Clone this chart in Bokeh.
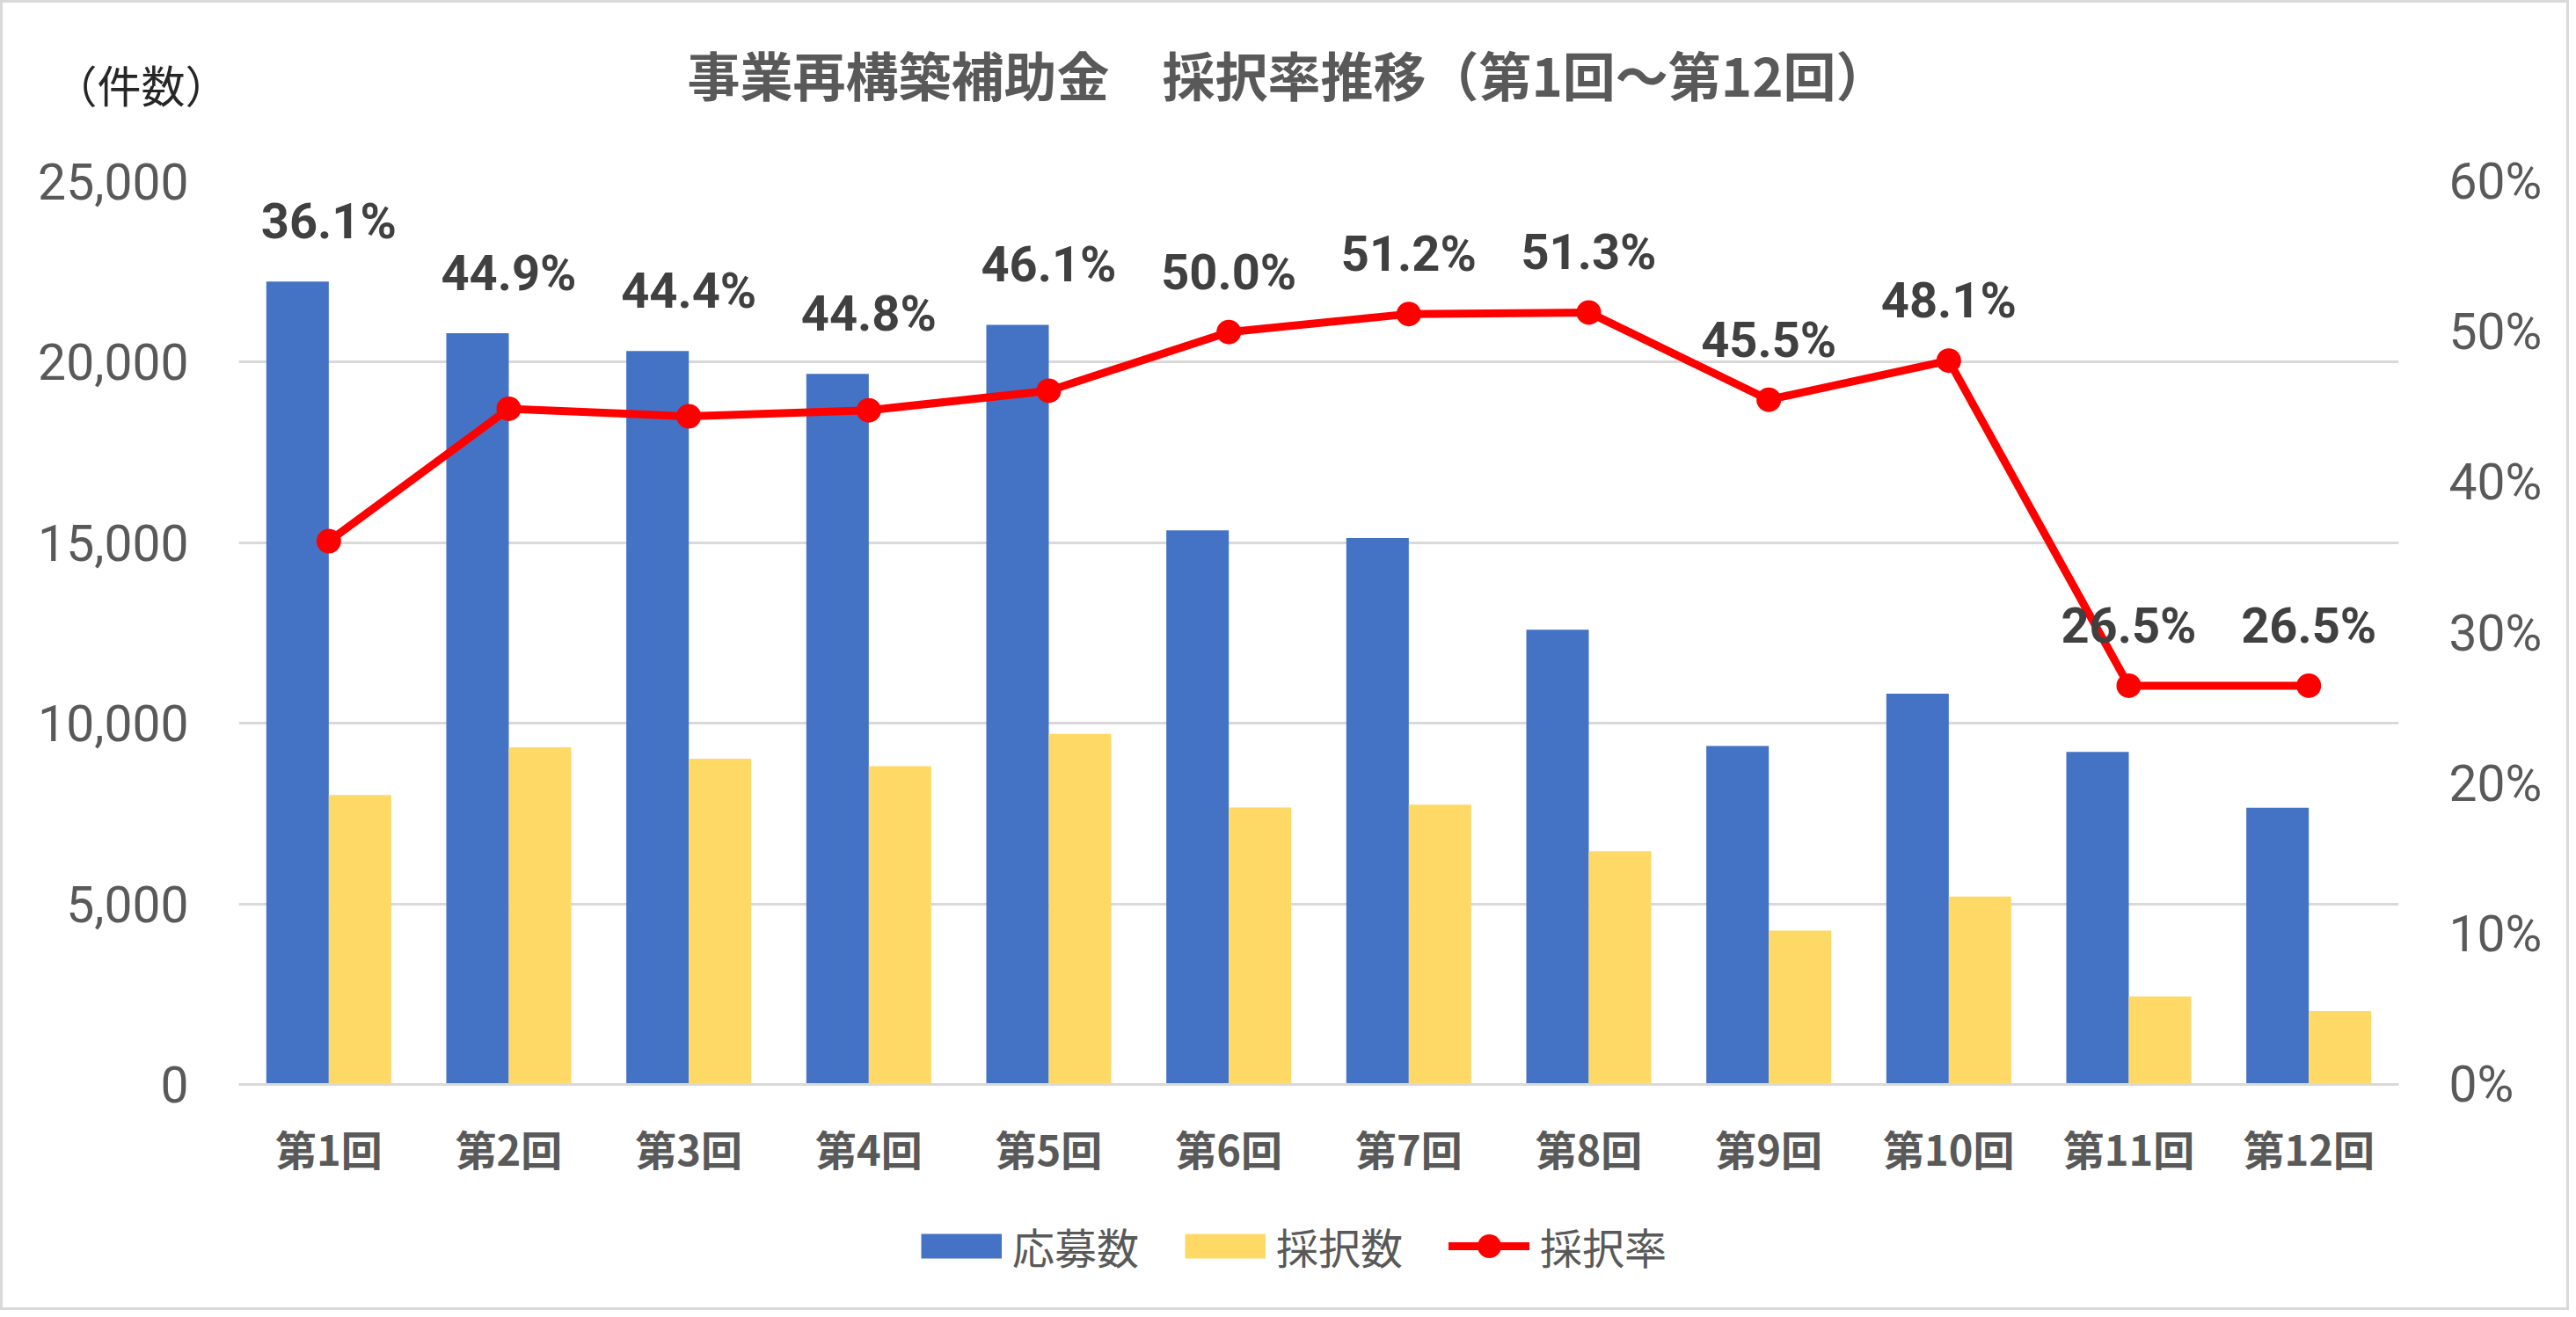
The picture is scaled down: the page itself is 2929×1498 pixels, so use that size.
from bokeh.plotting import figure
from bokeh.models import (Range1d, LinearAxis, NumeralTickFormatter, FixedTicker,
                          Legend, LegendItem, Label, ColumnDataSource)
from bokeh.layouts import column
from bokeh.core.properties import value
from bokeh.transform import dodge
from bokeh.embed import file_html
from bokeh.resources import INLINE

# ---- data ----
categories = ["第1回", "第2回", "第3回", "第4回", "第5回", "第6回",
              "第7回", "第8回", "第9回", "第10回", "第11回", "第12回"]
applications = [22231, 20800, 20307, 19673, 21035, 15340, 15132, 12591, 9369, 10821, 9207, 7664]
adoptions = [8016, 9336, 9021, 8810, 9707, 7669, 7745, 6456, 4259, 5205, 2437, 2031]
rates = [36.1, 44.9, 44.4, 44.8, 46.1, 50.0, 51.2, 51.3, 45.5, 48.1, 26.5, 26.5]
left_ticks = [0, 5000, 10000, 15000, 20000, 25000]
right_ticks = [0.0, 0.1, 0.2, 0.3, 0.4, 0.5, 0.6]
series_names = ["応募数", "採択数", "採択率"]
title_text = "事業再構築補助金　採択率推移（第1回～第12回）"
unit_text = "（件数）"

LEFT_MAX = 25000
RIGHT_MAX = 0.6

BLUE = "#4472C4"
YELLOW = "#FFD966"
RED = "#FF0000"
GRID = "#D9D9D9"
TXT = "#595959"
CJK = "Noto Sans CJK JP"
NUM = "Roboto"

W = 2915
H_HEAD = 150
H_MAIN = 1207
H_LEG = 127


def blank(height, xr, yr):
    f = figure(width=W, height=height, output_backend="svg", toolbar_location=None,
               x_range=xr, y_range=yr, min_border=0,
               x_axis_type=None, y_axis_type=None)
    f.frame_align = False
    f.outline_line_color = None
    f.grid.visible = False
    f.background_fill_color = "white"
    f.border_fill_color = "white"
    return f


# ---- header: title and unit ----
head = blank(H_HEAD, Range1d(0, W), Range1d(0, H_HEAD))
head.add_layout(Label(x=1461, y=H_HEAD - 80, text=title_text, text_align="center",
                      text_baseline="middle", text_font=CJK, text_font_style="bold",
                      text_font_size="60px", text_color=TXT))
head.add_layout(Label(x=157, y=H_HEAD - 91, text=unit_text, text_align="center",
                      text_baseline="middle", text_font=CJK, text_font_size="50px",
                      text_color="#262626"))

# ---- main chart ----
xs = list(range(len(categories)))
rate_frac = [r / 100 for r in rates]
label_anchor = [max(a, rf / RIGHT_MAX * LEFT_MAX) for a, rf in zip(applications, rate_frac)]
label_texts = [f"{r:.1f}%" for r in rates]

src = ColumnDataSource(dict(x=xs, app=applications, adopt=adoptions, rate=rate_frac,
                            anchor=label_anchor, lbl=label_texts))

p = figure(width=W, height=H_MAIN, output_backend="svg", toolbar_location=None,
           x_range=Range1d(-0.5, len(categories) - 0.5),
           y_range=Range1d(0, LEFT_MAX),
           min_border_left=268, min_border_right=191, min_border_top=53, min_border_bottom=127)
p.frame_align = False
p.outline_line_color = None
p.background_fill_color = "white"
p.border_fill_color = "white"
p.extra_y_ranges = {"rate": Range1d(0, RIGHT_MAX)}

BW = 0.347
p.vbar(x=dodge("x", -BW / 2), top="app", width=BW, source=src,
       fill_color=BLUE, line_color=None)
p.vbar(x=dodge("x", BW / 2), top="adopt", width=BW, source=src,
       fill_color=YELLOW, line_color=None)
p.line(x="x", y="rate", source=src, y_range_name="rate",
       line_color=RED, line_width=9, line_join="round")
p.scatter(x="x", y="rate", source=src, y_range_name="rate",
          size=28, fill_color=RED, line_color=None)

p.text(x="x", y="anchor", text="lbl", source=src, text_align="center",
       text_baseline="middle", y_offset=-68, text_font=value(NUM),
       text_font_style="bold", text_font_size="56px", text_color="#404040")

p.xaxis.ticker = FixedTicker(ticks=xs)
p.xaxis.major_label_overrides = {i: c for i, c in zip(xs, categories)}
p.xaxis.major_label_text_font = CJK
p.xaxis.major_label_text_font_style = "bold"
p.xaxis.major_label_text_font_size = "47px"
p.xaxis.major_label_text_color = TXT
p.xaxis.major_label_standoff = 31
p.xaxis.axis_line_color = GRID
p.xaxis.axis_line_width = 3
p.xaxis.major_tick_line_color = None
p.xaxis.minor_tick_line_color = None

p.yaxis.ticker = FixedTicker(ticks=left_ticks)
p.yaxis.formatter = NumeralTickFormatter(format="0,0")
p.yaxis.major_label_text_font = NUM
p.yaxis.major_label_text_font_size = "57px"
p.yaxis.major_label_text_color = TXT
p.yaxis.major_label_standoff = 51
p.yaxis.axis_line_color = None
p.yaxis.major_tick_line_color = None
p.yaxis.minor_tick_line_color = None

ax_r = LinearAxis(y_range_name="rate", ticker=FixedTicker(ticks=right_ticks),
                  formatter=NumeralTickFormatter(format="0%"))
ax_r.major_label_text_font = NUM
ax_r.major_label_text_font_size = "57px"
ax_r.major_label_text_color = TXT
ax_r.major_label_standoff = 51
ax_r.axis_line_color = None
ax_r.major_tick_line_color = None
ax_r.minor_tick_line_color = None
p.add_layout(ax_r, "right")

p.xgrid.grid_line_color = None
p.ygrid.grid_line_color = GRID
p.ygrid.grid_line_width = 3

# ---- legend strip (swatch renderers sit outside the visible range) ----
leg = blank(H_LEG, Range1d(0, 1), Range1d(0, 1))
off = dict(x=[-5, -4], y=[-5, -5])
sw_app = leg.line(x=off["x"], y=off["y"], line_color=BLUE, line_width=28, line_cap="butt")
sw_adopt = leg.line(x=off["x"], y=off["y"], line_color=YELLOW, line_width=28, line_cap="butt")
sw_rate_l = leg.line(x=off["x"], y=off["y"], line_color=RED, line_width=9, line_cap="round")
sw_rate_m = leg.scatter(x=off["x"], y=off["y"], size=28, fill_color=RED, line_color=None)
legend = Legend(items=[LegendItem(label=series_names[0], renderers=[sw_app]),
                       LegendItem(label=series_names[1], renderers=[sw_adopt]),
                       LegendItem(label=series_names[2], renderers=[sw_rate_l, sw_rate_m])],
                orientation="horizontal", location=(1044, 35),
                glyph_width=92, glyph_height=68, label_standoff=12, spacing=52,
                padding=0, margin=0, border_line_color=None, background_fill_alpha=0,
                label_text_font=CJK, label_text_font_size="48px", label_text_color=TXT)
leg.add_layout(legend, "center")

layout = column(head, p, leg, spacing=0)
layout.styles = {"border": "3px solid #D9D9D9", "background-color": "white"}

open("out.html", "w").write(file_html(layout, INLINE))
